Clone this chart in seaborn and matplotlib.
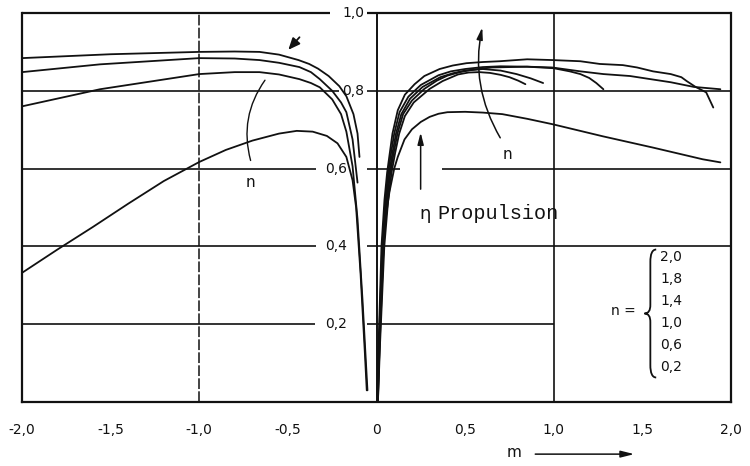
import numpy as np
import pandas as pd
import matplotlib
matplotlib.use("Agg")
import matplotlib.pyplot as plt
import seaborn as sns
from matplotlib.path import Path
from matplotlib.patches import PathPatch

# ---- curve data: propulsion efficiency eta over m ----
# branch for m < 0
left_a_m = [-2.0, -1.5, -1.0, -0.8, -0.66, -0.55, -0.44, -0.38, -0.33, -0.27, -0.21, -0.17, -0.13, -0.107, -0.096]
left_a_eta = [0.884, 0.894, 0.900, 0.901, 0.900, 0.893, 0.879, 0.869, 0.857, 0.838, 0.812, 0.786, 0.74, 0.69, 0.63]

left_b_m = [-2.0, -1.56, -1.0, -0.8, -0.66, -0.55, -0.435, -0.37, -0.32, -0.25, -0.2, -0.17, -0.135, -0.107]
left_b_eta = [0.848, 0.868, 0.884, 0.883, 0.879, 0.872, 0.861, 0.848, 0.83, 0.80, 0.77, 0.745, 0.675, 0.564]

left_c_m = [-2.0, -1.56, -1.0, -0.8, -0.66, -0.55, -0.435, -0.37, -0.32, -0.25, -0.2, -0.17, -0.135, -0.107, -0.079, -0.051]
left_c_eta = [0.76, 0.804, 0.843, 0.848, 0.848, 0.842, 0.83, 0.82, 0.809, 0.778, 0.74, 0.695, 0.606, 0.47, 0.263, 0.03]

left_d_m = [-2.0, -1.8, -1.6, -1.4, -1.2, -1.0, -0.85, -0.7, -0.55, -0.45, -0.36, -0.28, -0.22, -0.17, -0.135,
            -0.115, -0.09, -0.065, -0.055]
left_d_eta = [0.332, 0.392, 0.45, 0.51, 0.568, 0.617, 0.648, 0.672, 0.69, 0.697, 0.695, 0.684, 0.665, 0.63, 0.57,
              0.50, 0.33, 0.12, 0.03]

# branch for m > 0
right_a_m = [0.004, 0.012, 0.028, 0.045, 0.06, 0.075, 0.09, 0.12, 0.16, 0.215, 0.27, 0.356, 0.43, 0.508,
             0.6, 0.695, 0.85, 0.994, 1.15, 1.26, 1.39, 1.47, 1.56, 1.66, 1.72, 1.75, 1.8, 1.86, 1.9]
right_a_eta = [0.0, 0.15, 0.40, 0.52, 0.59, 0.64, 0.69, 0.75, 0.79, 0.817, 0.838, 0.856, 0.865, 0.871,
               0.874, 0.876, 0.881, 0.879, 0.876, 0.869, 0.866, 0.86, 0.85, 0.843, 0.835, 0.825, 0.81, 0.796, 0.757]

right_b_m = [0.005, 0.014, 0.032, 0.05, 0.066, 0.082, 0.1, 0.13, 0.18, 0.25, 0.35, 0.42, 0.5, 0.6, 0.7,
             0.85, 0.99, 1.15, 1.28, 1.43, 1.66, 1.79, 1.94]
right_b_eta = [0.0, 0.15, 0.40, 0.52, 0.59, 0.64, 0.69, 0.745, 0.785, 0.815, 0.84, 0.85, 0.856, 0.861, 0.863,
               0.862, 0.86, 0.85, 0.843, 0.838, 0.822, 0.81, 0.804]

right_c_m = [0.006, 0.016, 0.036, 0.055, 0.072, 0.09, 0.11, 0.14, 0.19, 0.26, 0.36, 0.43, 0.5, 0.65,
             0.85, 1.0, 1.09, 1.15, 1.2, 1.24, 1.28]
right_c_eta = [0.0, 0.15, 0.40, 0.52, 0.59, 0.64, 0.69, 0.74, 0.78, 0.81, 0.835, 0.845, 0.852, 0.86,
               0.862, 0.858, 0.85, 0.843, 0.833, 0.82, 0.804]

right_d_m = [0.007, 0.018, 0.04, 0.06, 0.078, 0.097, 0.118, 0.15, 0.2, 0.27, 0.34, 0.4, 0.47, 0.53, 0.6,
             0.7, 0.79, 0.87, 0.94]
right_d_eta = [0.0, 0.15, 0.40, 0.52, 0.59, 0.64, 0.69, 0.74, 0.775, 0.805, 0.826, 0.839, 0.848, 0.853, 0.856,
               0.852, 0.843, 0.832, 0.82]

right_e_m = [0.008, 0.02, 0.044, 0.066, 0.085, 0.105, 0.128, 0.16, 0.21, 0.3, 0.373, 0.46, 0.52, 0.58,
             0.64, 0.7, 0.75, 0.8, 0.84]
right_e_eta = [0.0, 0.15, 0.40, 0.52, 0.59, 0.64, 0.69, 0.735, 0.77, 0.805, 0.825, 0.842, 0.847, 0.848,
               0.846, 0.841, 0.835, 0.826, 0.817]

right_f_m = [0.008, 0.02, 0.045, 0.073, 0.1, 0.12, 0.158, 0.2, 0.25, 0.3, 0.35, 0.4, 0.5, 0.6, 0.71, 0.85,
             0.994, 1.277, 1.56, 1.84, 1.94]
right_f_eta = [0.0, 0.2, 0.45, 0.54, 0.6, 0.63, 0.675, 0.701, 0.72, 0.733, 0.741, 0.745, 0.746, 0.744, 0.74,
               0.728, 0.714, 0.683, 0.654, 0.624, 0.616]

n_values = ["2,0", "1,8", "1,4", "1,0", "0,6", "0,2"]
xtick_vals = [-2.0, -1.5, -1.0, -0.5, 0.0, 0.5, 1.0, 1.5, 2.0]
xtick_labels = ["-2,0", "-1,5", "-1,0", "-0,5", "0", "0,5", "1,0", "1,5", "2,0"]
ytick_vals = [1.0, 0.8, 0.6, 0.4, 0.2]
ytick_labels = ["1,0", "0,8", "0,6", "0,4", "0,2"]

curves = {
    "left_a": (left_a_m, left_a_eta), "left_b": (left_b_m, left_b_eta),
    "left_c": (left_c_m, left_c_eta), "left_d": (left_d_m, left_d_eta),
    "right_a": (right_a_m, right_a_eta), "right_b": (right_b_m, right_b_eta),
    "right_c": (right_c_m, right_c_eta), "right_d": (right_d_m, right_d_eta),
    "right_e": (right_e_m, right_e_eta), "right_f": (right_f_m, right_f_eta),
}
df = pd.concat(
    [pd.DataFrame({"m": m, "eta": e, "curve": name}) for name, (m, e) in curves.items()],
    ignore_index=True,
)

sns.set_style("white")
plt.rcParams["font.family"] = ["DejaVu Sans"]

fig = plt.figure(figsize=(7.5, 4.66), dpi=100)
ax = fig.add_axes([22 / 750, 64 / 466, 709 / 750, 389 / 466])
ax.set_xlim(-2.0, 2.0)
ax.set_ylim(0.0, 1.0)

ink = "#111111"
grid_kw = dict(color=ink, lw=1.2, zorder=1)

# horizontal grid, interrupted where the scale labels sit
ax.hlines(0.8, -2.0, -0.21, **grid_kw)
ax.hlines(0.8, -0.056, 2.0, **grid_kw)
ax.hlines(0.6, -2.0, -0.34, **grid_kw)
ax.hlines(0.6, -0.056, 0.13, **grid_kw)
ax.hlines(0.6, 0.367, 2.0, **grid_kw)
ax.hlines(0.4, -2.0, -0.34, **grid_kw)
ax.hlines(0.4, -0.056, 2.0, **grid_kw)
ax.hlines(0.2, -2.0, -0.345, **grid_kw)
ax.hlines(0.2, -0.056, 1.0, **grid_kw)
# top edge, broken by the 1,0 label
ax.hlines(1.0, -2.0, -0.265, color=ink, lw=1.6, zorder=1, clip_on=False)
ax.hlines(1.0, -0.056, 2.0, color=ink, lw=1.6, zorder=1, clip_on=False)
# vertical lines
ax.vlines(-1.0, 0.0, 1.0, color=ink, lw=1.1, linestyles=(0, (7, 1.5)), zorder=1)
ax.vlines(1.0, 0.0, 1.0, color=ink, lw=1.2, zorder=1)
ax.vlines(0.0, 0.0, 1.0, color=ink, lw=1.4, zorder=1)

sns.lineplot(data=df, x="m", y="eta", units="curve", estimator=None, sort=False,
             color=ink, linewidth=1.3, ax=ax, legend=False, zorder=3)

for side in ["left", "right", "bottom"]:
    ax.spines[side].set_visible(True)
    ax.spines[side].set_color(ink)
    ax.spines[side].set_linewidth(1.6)
ax.spines["top"].set_visible(False)

ax.set_xticks(xtick_vals)
ax.set_xticklabels(xtick_labels)
ax.set_yticks([])
ax.tick_params(axis="x", direction="out", length=4, width=1, pad=11, labelsize=10, colors=ink)
ax.set_xlabel("")
ax.set_ylabel("")

# scale labels along the m = 0 axis
label_right_edge = [-0.07, -0.07, -0.165, -0.165, -0.165]
for v, lab, xr in zip(ytick_vals, ytick_labels, label_right_edge):
    ax.text(xr, v, lab, ha="right", va="center", fontsize=10, color=ink, zorder=4)

# axis caption with arrow
ax.text(0.774, -0.131, "m", ha="center", va="center", fontsize=11, color=ink, clip_on=False)
ax.annotate("", xy=(1.47, -0.134), xytext=(0.88, -0.134), xycoords="data",
            arrowprops=dict(arrowstyle="-|>,head_length=0.8,head_width=0.2", color=ink, lw=1.1),
            annotation_clip=False)

# eta label with arrow
ax.text(0.243, 0.47, "η", ha="left", va="baseline", fontsize=13, color=ink)
ax.text(0.345, 0.47, "Propulsion", ha="left", va="baseline", fontsize=14.5,
        family="Liberation Mono", color=ink)
ax.annotate("", xy=(0.249, 0.70), xytext=(0.249, 0.54),
            arrowprops=dict(arrowstyle="-|>,head_length=0.7,head_width=0.18", color=ink, lw=1.1))

# direction of increasing n
ax.text(0.74, 0.635, "n", ha="center", va="center", fontsize=11, color=ink)
ax.annotate("", xy=(0.60, 0.97), xytext=(0.706, 0.673),
            arrowprops=dict(arrowstyle="-|>,head_length=0.7,head_width=0.18", color=ink, lw=1.1,
                            connectionstyle="arc3,rad=-0.2"))
ax.text(-0.712, 0.563, "n", ha="center", va="center", fontsize=11, color=ink)
ax.annotate("", xy=(-0.62, 0.833), xytext=(-0.706, 0.614),
            arrowprops=dict(arrowstyle="-", color=ink, lw=1.0, connectionstyle="arc3,rad=-0.25"))
ax.annotate("", xy=(-0.508, 0.900), xytext=(-0.424, 0.943),
            arrowprops=dict(arrowstyle="-|>,head_length=0.7,head_width=0.3", color=ink, lw=1.3))

# n = { list
ax.text(1.39, 0.235, "n =", ha="center", va="center", fontsize=10, color=ink)
for i, lab in enumerate(n_values):
    ax.text(1.60, 0.372 - i * 0.0565, lab, ha="left", va="center", fontsize=10, color=ink)
verts = [(1.578, 0.392), (1.555, 0.392), (1.545, 0.38), (1.545, 0.36),
         (1.545, 0.25),
         (1.545, 0.235), (1.535, 0.228), (1.512, 0.2275),
         (1.535, 0.227), (1.545, 0.22), (1.545, 0.205),
         (1.545, 0.095),
         (1.545, 0.075), (1.555, 0.063), (1.578, 0.063)]
codes = [Path.MOVETO, Path.CURVE4, Path.CURVE4, Path.CURVE4,
         Path.LINETO,
         Path.CURVE4, Path.CURVE4, Path.CURVE4,
         Path.CURVE4, Path.CURVE4, Path.CURVE4,
         Path.LINETO,
         Path.CURVE4, Path.CURVE4, Path.CURVE4]
ax.add_patch(PathPatch(Path(verts, codes), facecolor="none", edgecolor=ink, lw=1.3))

fig.savefig("out.png", dpi=100, facecolor="white")
